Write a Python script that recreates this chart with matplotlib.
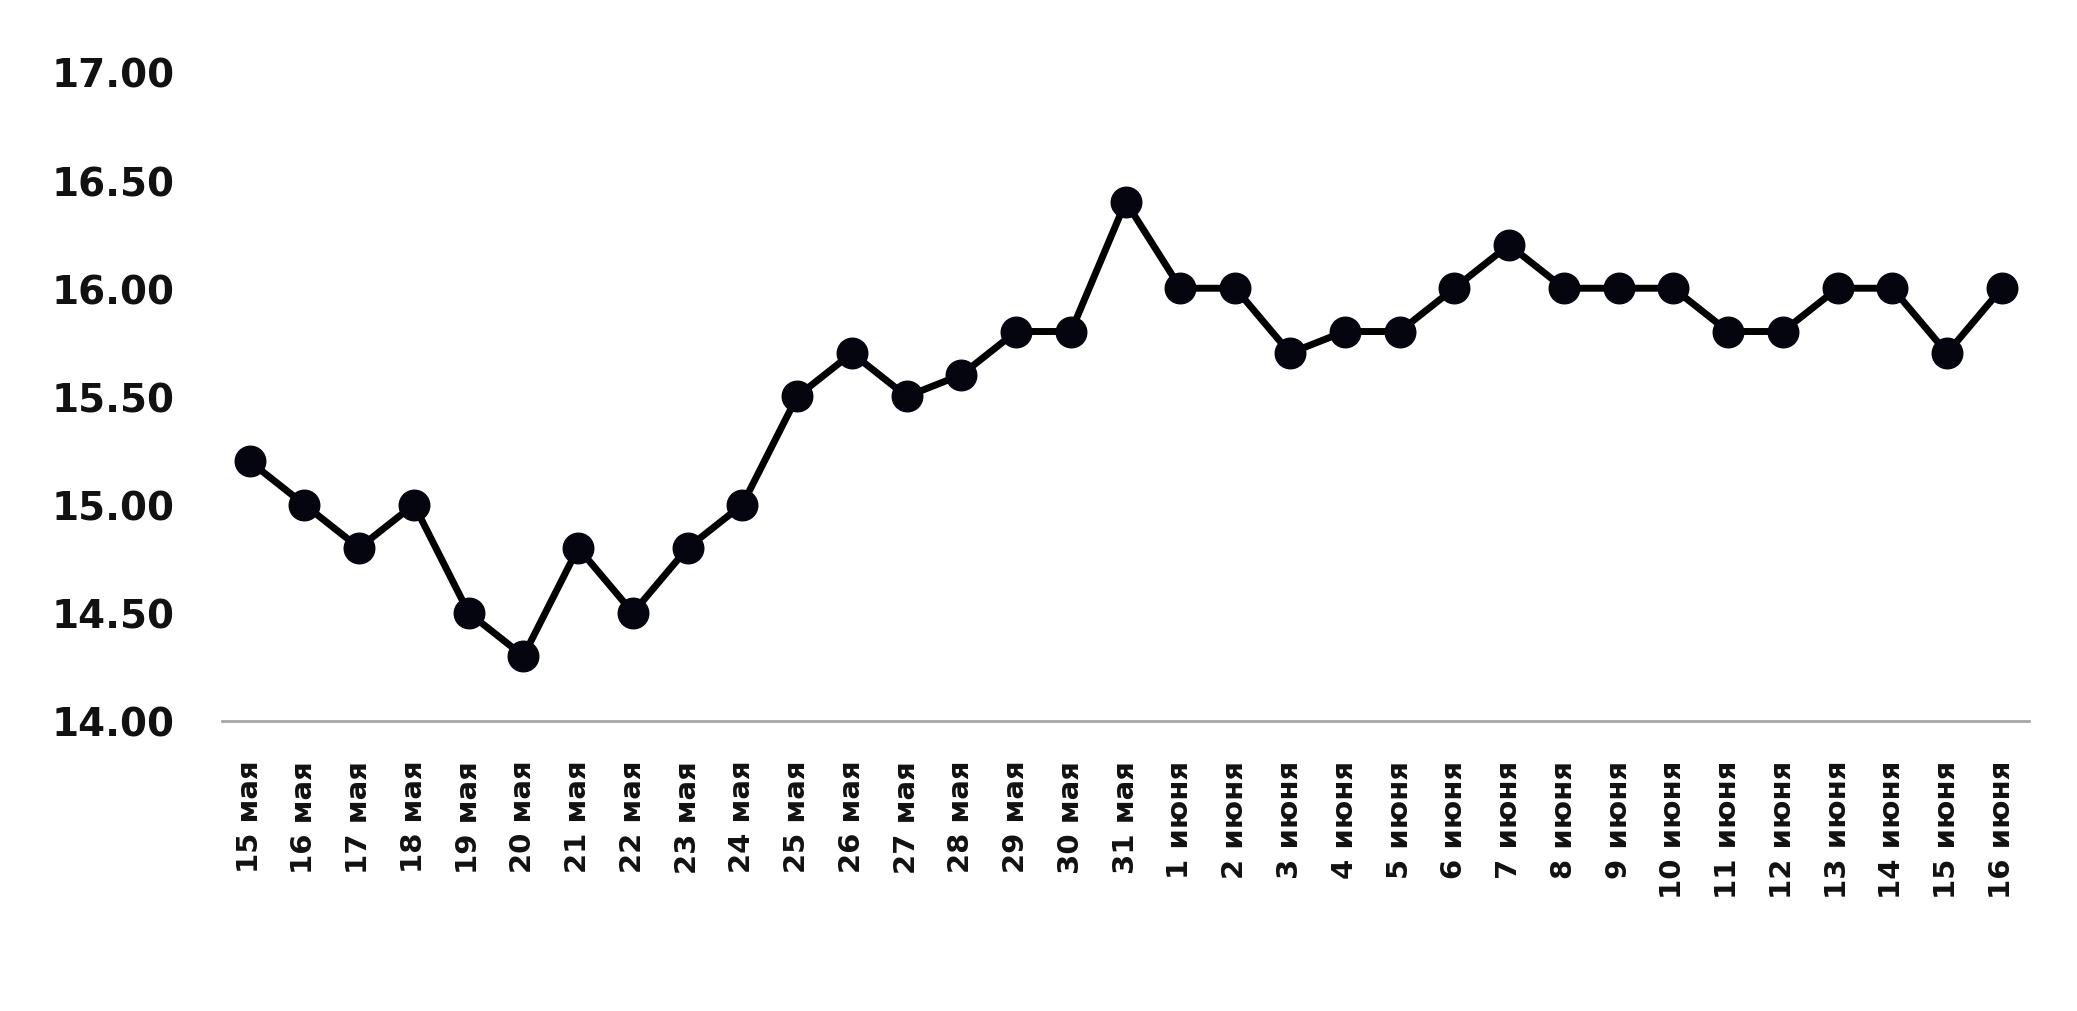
import matplotlib
matplotlib.use("Agg")
import matplotlib.pyplot as plt

dates = ["15 мая", "16 мая", "17 мая", "18 мая", "19 мая", "20 мая", "21 мая",
         "22 мая", "23 мая", "24 мая", "25 мая", "26 мая", "27 мая", "28 мая",
         "29 мая", "30 мая", "31 мая", "1 июня", "2 июня", "3 июня", "4 июня",
         "5 июня", "6 июня", "7 июня", "8 июня", "9 июня", "10 июня", "11 июня",
         "12 июня", "13 июня", "14 июня", "15 июня", "16 июня"]
values = [15.2, 15.0, 14.8, 15.0, 14.5, 14.3, 14.8,
          14.5, 14.8, 15.0, 15.5, 15.7, 15.5, 15.6,
          15.8, 15.8, 16.4, 16.0, 16.0, 15.7, 15.8,
          15.8, 16.0, 16.2, 16.0, 16.0, 16.0, 15.8,
          15.8, 16.0, 16.0, 15.7, 16.0]
yticks = [14.0, 14.5, 15.0, 15.5, 16.0, 16.5, 17.0]

plt.rcParams['font.family'] = ['DejaVu Sans']
fig = plt.figure(figsize=(20.77, 10.12), dpi=100)
ax = fig.add_axes([0.107, 0.2866, 0.870, 0.6414])

x = list(range(len(dates)))
ax.plot(x, values, color='black', linewidth=5, marker='o',
        markersize=22, markerfacecolor='#050510', markeredgecolor='#050510',
        solid_joinstyle='round')

ax.set_xlim(-0.5, len(dates) - 0.5)
ax.set_ylim(14.0, 17.0)
ax.set_yticks(yticks)
ax.set_yticklabels([f"{v:.2f}" for v in yticks], fontsize=28, fontweight='bold', color='#111111')
ax.set_xticks(x)
ax.set_xticklabels(dates, rotation=90, fontsize=21, fontweight='bold', color='#111111', va='top', ha='center')

for s in ['top', 'right', 'left']:
    ax.spines[s].set_visible(False)
ax.spines['bottom'].set_color('#a6a6a6')
ax.spines['bottom'].set_linewidth(2)
ax.tick_params(axis='both', length=0)
ax.tick_params(axis='y', pad=34)
ax.tick_params(axis='x', pad=28)
ax.patch.set_visible(False)

fig.savefig("out.png", dpi=100, facecolor='white')
